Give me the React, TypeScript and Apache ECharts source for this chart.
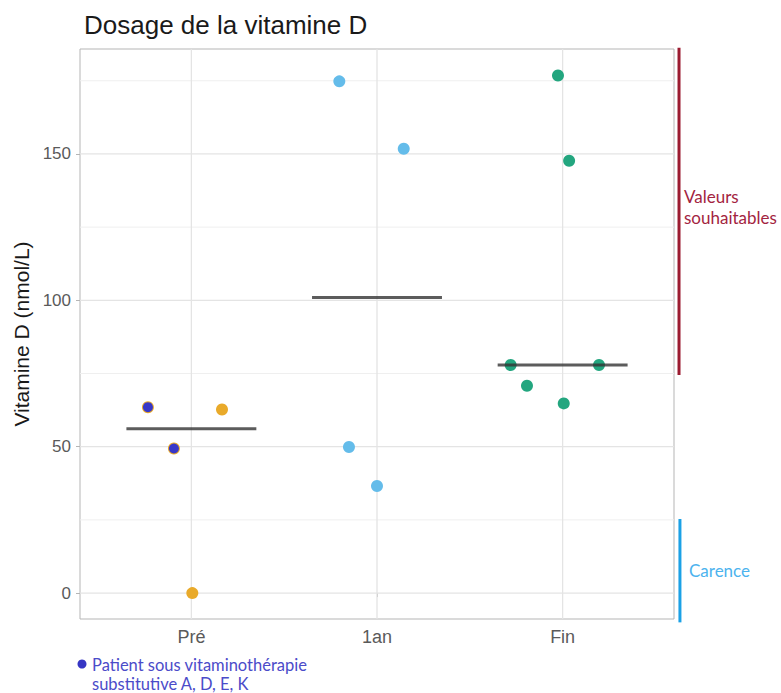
import React, { useEffect, useRef } from "react";
import * as echarts from "echarts";

// Categories and axis ticks
const categories = ["Pré", "1an", "Fin"];
const categoryPositions = [1, 2, 3];
const yTicks = [0, 50, 100, 150];
const yMinorTicks = [25, 75, 125, 175];
const yRange = [-8.85, 185.85];
const xRange = [0.4, 3.6];

// Jittered points (x = jittered category position, y = value in nmol/L)
const preX = [0.766, 0.906, 1.165, 1.005];
const preY = [63.5, 49.4, 62.7, 0];
const anX = [1.797, 2.144, 1.849, 2.0];
const anY = [174.8, 151.8, 49.9, 36.6];
const finX = [2.975, 3.035, 2.72, 3.196, 2.808, 3.006];
const finY = [176.8, 147.7, 77.9, 77.9, 70.8, 64.8];

// Patients under vitamin therapy (overlay)
const treatedX = [0.766, 0.906];
const treatedY = [63.5, 49.4];

// Median per group
const medians = [56.1, 101, 77.9];
const medianHalfWidth = 0.35;

// Reference ranges drawn at the right of the panel
const targetRange = [74.5, 186.3]; // Valeurs souhaitables
const deficiencyRange = [-10, 25.3]; // Carence
const rangeBarX = [3.627, 3.632];

const zip = (xs: number[], ys: number[]) => xs.map((x, i) => [x, ys[i]]);

export default function App() {
  const ref = useRef<HTMLDivElement>(null);

  useEffect(() => {
    if (!ref.current) return;
    const chart = echarts.init(ref.current, undefined, { renderer: "svg" });
    const font = "Liberation Sans, Arial, sans-serif";
    const annoFont = "Lato, 'Open Sans', sans-serif";

    const gridSeries: any[] = [];
    yTicks.forEach((v) =>
      gridSeries.push({
        type: "line",
        silent: true,
        symbol: "none",
        z: 1,
        data: [[xRange[0], v], [xRange[1], v]],
        lineStyle: { color: "#e4e4e4", width: 1.3 },
      })
    );
    yMinorTicks.forEach((v) =>
      gridSeries.push({
        type: "line",
        silent: true,
        symbol: "none",
        z: 1,
        data: [[xRange[0], v], [xRange[1], v]],
        lineStyle: { color: "#efefef", width: 1 },
      })
    );
    categoryPositions.forEach((x) =>
      gridSeries.push({
        type: "line",
        silent: true,
        symbol: "none",
        z: 1,
        data: [[x, yRange[0]], [x, yRange[1]]],
        lineStyle: { color: "#e4e4e4", width: 1.3 },
      })
    );

    const medianSeries = medians.map((m, i) => ({
      type: "line",
      silent: true,
      symbol: "none",
      z: 4,
      data: [
        [categoryPositions[i] - medianHalfWidth, m],
        [categoryPositions[i] + medianHalfWidth, m],
      ],
      lineStyle: { color: "#333333", width: 3, opacity: 0.8 },
    }));

    const option: any = {
      animation: false,
      title: {
        text: "Dosage de la vitamine D",
        left: 79,
        top: 7,
        textStyle: { fontSize: 26, fontWeight: "normal", color: "#1a1a1a", fontFamily: font },
      },
      grid: {
        left: 80,
        right: 107,
        top: 49,
        bottom: 74,
        show: true,
        borderColor: "#b5b5b5",
        borderWidth: 1,
      },
      xAxis: {
        type: "value",
        min: xRange[0],
        max: xRange[1],
        axisLine: { show: false },
        splitLine: { show: false },
        axisTick: {
          show: true,
          customValues: categoryPositions,
          length: 4,
          lineStyle: { color: "#b5b5b5" },
        },
        axisLabel: {
          customValues: categoryPositions,
          formatter: (v: number) => categories[Math.round(v) - 1] ?? "",
          fontSize: 18,
          color: "#5a5a5a",
          margin: 9,
          fontFamily: font,
        },
      },
      yAxis: {
        type: "value",
        min: yRange[0],
        max: yRange[1],
        name: "Vitamine D (nmol/L)",
        nameLocation: "middle",
        nameGap: 46,
        nameTextStyle: { fontSize: 21, color: "#1a1a1a", fontFamily: font },
        axisLine: { show: false },
        splitLine: { show: false },
        axisTick: {
          show: true,
          customValues: yTicks,
          length: 4,
          lineStyle: { color: "#b5b5b5" },
        },
        axisLabel: {
          customValues: yTicks,
          fontSize: 17,
          color: "#5a5a5a",
          margin: 9,
          fontFamily: font,
        },
      },
      series: [
        ...gridSeries,
        {
          type: "scatter",
          z: 3,
          symbolSize: 12,
          itemStyle: { color: "#E9AA2A", opacity: 1 },
          data: zip(preX, preY),
        },
        {
          type: "scatter",
          z: 3,
          symbolSize: 12,
          itemStyle: { color: "#64BCEA", opacity: 1 },
          data: zip(anX, anY),
        },
        {
          type: "scatter",
          z: 3,
          symbolSize: 12,
          itemStyle: { color: "#23A67F", opacity: 1 },
          data: zip(finX, finY),
        },
        ...medianSeries,
        {
          type: "scatter",
          z: 5,
          symbolSize: 10,
          itemStyle: { color: "#3838C8", opacity: 1 },
          data: zip(treatedX, treatedY),
        },
      ],
    };

    chart.setOption(option);

    const px = (x: number, y: number) => chart.convertToPixel({ gridIndex: 0 }, [x, y]) as number[];
    const r0 = px(rangeBarX[0], targetRange[0]);
    const r1 = px(rangeBarX[0], targetRange[1]);
    const b0 = px(rangeBarX[1], deficiencyRange[0]);
    const b1 = px(rangeBarX[1], deficiencyRange[1]);

    chart.setOption({
      graphic: [
        {
          type: "line",
          z: 10,
          shape: { x1: r0[0], y1: r0[1], x2: r1[0], y2: r1[1] },
          style: { stroke: "#9B1B30", lineWidth: 3 },
        },
        {
          type: "line",
          z: 10,
          shape: { x1: b0[0], y1: b0[1], x2: b1[0], y2: b1[1] },
          style: { stroke: "#1BA1E6", lineWidth: 3 },
        },
        {
          type: "text",
          left: 684,
          top: 186,
          style: {
            text: "Valeurs\nsouhaitables",
            fontSize: 17,
            lineHeight: 21,
            fill: "#A3243F",
            fontFamily: annoFont,
          },
        },
        {
          type: "text",
          left: 689,
          top: 560,
          style: {
            text: "Carence",
            fontSize: 17,
            lineHeight: 21,
            fill: "#4CB3EE",
            fontFamily: annoFont,
          },
        },
        {
          type: "circle",
          shape: { cx: 82, cy: 664, r: 4.5 },
          style: { fill: "#3636C4" },
        },
        {
          type: "text",
          left: 92,
          top: 655,
          style: {
            text: "Patient sous vitaminothérapie\nsubstitutive A, D, E, K",
            fontSize: 16.5,
            lineHeight: 19.5,
            fill: "#4B4BC9",
            fontFamily: annoFont,
          },
        },
      ],
    });

    return () => chart.dispose();
  }, []);

  return (
    <div
      ref={ref}
      style={{ position: "fixed", left: 0, top: 0, width: 781, height: 693, background: "#fff" }}
    />
  );
}
